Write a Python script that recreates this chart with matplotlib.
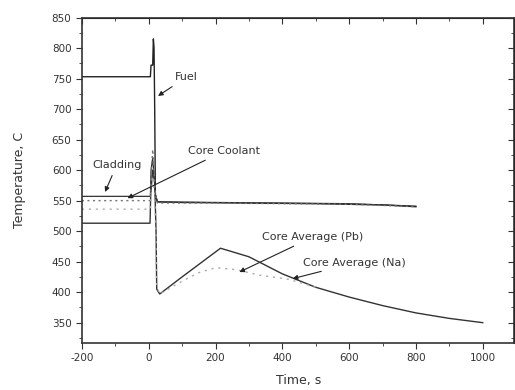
import numpy as np
import matplotlib
matplotlib.use("Agg")
from matplotlib import pyplot as plt
from matplotlib.ticker import MultipleLocator

plt.rcParams["axes.unicode_minus"] = False

# fuel temperature
fuel_t = [-200, 5, 7, 12, 14, 16, 18, 20, 26, 100, 300, 500, 700, 800]
fuel_T = [753, 753, 772, 772, 815, 800, 700, 560, 548, 547, 546, 545, 543, 540]

# cladding
clad_t = [-200, 5, 7, 12, 16, 20, 26, 200, 400, 600, 800]
clad_T = [557, 557, 600, 620, 590, 560, 548, 547, 546, 545, 541]

# core coolant (dotted)
cool_t = [-200, 5, 8, 12, 16, 20, 26, 200, 400, 600, 800]
cool_T = [550, 550, 600, 634, 600, 560, 546, 546, 545, 544, 540]

# core average (Pb), solid
pb_t = [-200, 4, 6, 12, 18, 22, 24, 33, 100, 215, 300, 400, 500, 600, 700, 800, 900, 1000]
pb_T = [513, 513, 560, 600, 580, 500, 405, 397, 425, 472, 458, 430, 408, 392, 378, 366, 357, 350]

# core average (Na), dotted
na_t = [-200, 5, 8, 12, 18, 22, 24, 33, 100, 150, 200, 260, 330, 420, 500]
na_T = [536, 536, 570, 590, 560, 490, 410, 397, 418, 432, 440, 437, 428, 421, 408]

fig = plt.figure(figsize=(5.15, 3.9), dpi=100)
ax = fig.add_axes([0.159, 0.121, 0.840, 0.834])

ax.plot(fuel_t, fuel_T, color="#222222", lw=1.0)
ax.plot(clad_t, clad_T, color="#333333", lw=0.9)
ax.plot(pb_t, pb_T, color="#333333", lw=1.0)
ax.plot(cool_t, cool_T, color="#777777", lw=1.0, ls=(0, (1.5, 2.5)))
ax.plot(na_t, na_T, color="#aaaaaa", lw=1.0, ls=(0, (1.5, 3.5)))

ax.set_xlim(-200, 1095)
ax.set_ylim(317, 850)
ax.xaxis.set_major_locator(MultipleLocator(200))
ax.xaxis.set_minor_locator(MultipleLocator(100))
ax.yaxis.set_major_locator(MultipleLocator(50))
ax.yaxis.set_minor_locator(MultipleLocator(25))
ax.tick_params(which="both", direction="out", labelsize=7.5, colors="#333333")
ax.tick_params(which="major", length=4)
ax.tick_params(which="minor", length=2.5)
for s in ax.spines.values():
    s.set_color("#333333")
    s.set_linewidth(1.2)

# mirrored ticks on top and right, pointing inward
top = ax.secondary_xaxis("top")
top.xaxis.set_major_locator(MultipleLocator(200))
top.xaxis.set_minor_locator(MultipleLocator(100))
top.tick_params(which="both", direction="in", labeltop=False, colors="#333333")
top.tick_params(which="major", length=4)
top.tick_params(which="minor", length=2.5)
right = ax.secondary_yaxis("right")
right.yaxis.set_major_locator(MultipleLocator(50))
right.yaxis.set_minor_locator(MultipleLocator(25))
right.tick_params(which="both", direction="in", labelright=False, colors="#333333")
right.tick_params(which="major", length=4)
right.tick_params(which="minor", length=2.5)

ax.set_xlabel("Time, s", fontsize=9, color="#333333")
ax.set_ylabel("Temperature, C", fontsize=9, color="#333333")
ax.xaxis.set_label_coords(0.5, -0.095)
ax.yaxis.set_label_coords(-0.13, 0.5)

arrow = dict(arrowstyle="-|>", color="#222222", lw=0.8, mutation_scale=7)
ax.annotate("Fuel", xy=(21, 719), xytext=(78, 752), fontsize=8,
            color="#333333", arrowprops=arrow, va="center")
ax.annotate("Core Coolant", xy=(-71, 552), xytext=(117, 631), fontsize=8,
            color="#333333", arrowprops=arrow, va="center")
ax.annotate("Cladding", xy=(-134, 560), xytext=(-170, 608), fontsize=8,
            color="#333333", arrowprops=arrow, va="center")
ax.annotate("Core Average (Pb)", xy=(264, 431), xytext=(339, 490), fontsize=8,
            color="#333333", arrowprops=arrow, va="center")
ax.annotate("Core Average (Na)", xy=(423, 421), xytext=(462, 448), fontsize=8,
            color="#333333", arrowprops=arrow, va="center")

fig.savefig("out.png", dpi=100)
